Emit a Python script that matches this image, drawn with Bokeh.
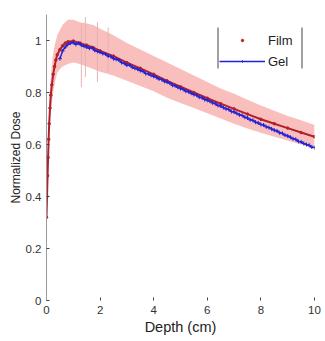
from bokeh.plotting import figure
from bokeh.embed import file_html
from bokeh.resources import INLINE
from bokeh.models import Legend, LegendItem, FixedTicker, BoxAnnotation

# Film measurement (depth in cm, normalized dose)
film_depth = [0.0, 0.02, 0.04, 0.06, 0.08, 0.1, 0.13, 0.16, 0.2, 0.25, 0.3, 0.35, 0.4,
              0.5, 0.6, 0.7, 0.8, 1.0, 1.25, 1.5, 1.75, 2.0, 2.5, 3.0, 3.5, 4.0, 4.5,
              5.0, 5.5, 6.0, 6.5, 7.0, 7.5, 8.0, 8.5, 9.0, 9.5, 10.0]
film_dose = [0.32, 0.40, 0.48, 0.55, 0.62, 0.68, 0.74, 0.79, 0.83, 0.87, 0.90, 0.925, 0.945,
             0.965, 0.98, 0.99, 0.995, 0.998, 0.99, 0.982, 0.972, 0.96, 0.94, 0.915, 0.893,
             0.87, 0.845, 0.822, 0.80, 0.778, 0.757, 0.737, 0.717, 0.697, 0.68, 0.663,
             0.646, 0.63]
film_upper = [0.35, 0.43, 0.52, 0.60, 0.67, 0.73, 0.80, 0.86, 0.91, 0.95, 0.98, 1.00, 1.02,
              1.04, 1.06, 1.07, 1.08, 1.08, 1.07, 1.065, 1.06, 1.045, 1.02, 0.99, 0.965,
              0.94, 0.915, 0.89, 0.865, 0.84, 0.815, 0.795, 0.772, 0.75, 0.73, 0.71,
              0.693, 0.675]
film_lower = [0.29, 0.37, 0.44, 0.50, 0.57, 0.63, 0.68, 0.72, 0.76, 0.80, 0.83, 0.855, 0.875,
              0.89, 0.90, 0.905, 0.91, 0.915, 0.91, 0.90, 0.89, 0.88, 0.865, 0.845, 0.825,
              0.805, 0.78, 0.76, 0.74, 0.72, 0.70, 0.68, 0.662, 0.645, 0.63, 0.615,
              0.60, 0.585]

# Gel measurement
gel_depth = [0.5, 0.6, 0.7, 0.8, 0.9, 1.0, 1.1, 1.2, 1.3, 1.4, 1.5, 1.6, 1.7, 1.8, 1.9,
             2.0, 2.1, 2.2, 2.3, 2.4, 2.5, 2.6, 2.7, 2.8, 2.9, 3.0, 3.1, 3.2, 3.3, 3.4,
             3.5, 3.6, 3.7, 3.8, 3.9, 4.0, 4.1, 4.2, 4.3, 4.4, 4.5, 4.6, 4.7, 4.8, 4.9,
             5.0, 5.1, 5.2, 5.3, 5.4, 5.5, 5.6, 5.7, 5.8, 5.9, 6.0, 6.1, 6.2, 6.3, 6.4,
             6.5, 6.6, 6.7, 6.8, 6.9, 7.0, 7.1, 7.2, 7.3, 7.4, 7.5, 7.6, 7.7, 7.8, 7.9,
             8.0, 8.1, 8.2, 8.3, 8.4, 8.5, 8.6, 8.7, 8.8, 8.9, 9.0, 9.1, 9.2, 9.3, 9.4,
             9.5, 9.6, 9.7, 9.8, 9.9, 10.0]
gel_dose = [0.93, 0.96, 0.975, 0.985, 0.99, 0.992, 0.985, 0.99, 0.982, 0.978, 0.975, 0.97,
            0.972, 0.962, 0.958, 0.955, 0.95, 0.948, 0.94, 0.938, 0.93, 0.928, 0.925, 0.915,
            0.912, 0.905, 0.906, 0.897, 0.893, 0.89, 0.884, 0.882, 0.873, 0.872, 0.866,
            0.862, 0.858, 0.852, 0.85, 0.843, 0.84, 0.836, 0.828, 0.826, 0.82, 0.815,
            0.812, 0.805, 0.803, 0.797, 0.792, 0.79, 0.782, 0.78, 0.773, 0.77, 0.766,
            0.76, 0.757, 0.75, 0.748, 0.742, 0.737, 0.735, 0.727, 0.725, 0.72, 0.714,
            0.712, 0.705, 0.702, 0.695, 0.693, 0.686, 0.683, 0.677, 0.675, 0.668, 0.665,
            0.66, 0.655, 0.652, 0.645, 0.643, 0.636, 0.633, 0.628, 0.622, 0.62, 0.612,
            0.61, 0.604, 0.60, 0.597, 0.59, 0.588]

# occasional large film error spikes
spike_depth = [1.3, 1.45, 1.9, 2.3]
spike_lo = [0.82, 0.86, 0.84, 0.88]
spike_hi = [1.06, 1.09, 1.07, 1.05]

x_ticks = [0, 2, 4, 6, 8, 10]
y_ticks = [0, 0.2, 0.4, 0.6, 0.8, 1.0]
y_tick_labels = {0: "0", 0.2: "0.2", 0.4: "0.4", 0.6: "0.6", 0.8: "0.8", 1: "1"}

FONT = "Liberation Sans"
RED = "#b3202a"
BLUE = "#2323d6"
PINK = "#f7b4b0"

p = figure(width=325, height=341, output_backend="svg", toolbar_location=None,
           x_range=(0, 10), y_range=(0, 1.1),
           min_border_left=46, min_border_right=11, min_border_top=14, min_border_bottom=41)
p.outline_line_color = None
p.grid.visible = False
p.background_fill_color = "white"

p.varea(x=film_depth, y1=film_lower, y2=film_upper, fill_color=PINK, fill_alpha=0.85)
p.segment(x0=spike_depth, y0=spike_lo, x1=spike_depth, y1=spike_hi,
          line_color="#e3b3b3", line_width=1)

film_line = p.line(film_depth, film_dose, line_color=RED, line_width=2)
film_pts = p.scatter(film_depth, film_dose, size=2.5, marker="circle",
                     fill_color=RED, line_color=RED)
gel_line = p.line(gel_depth, gel_dose, line_color=BLUE, line_width=1.5)
gel_pts = p.scatter(gel_depth, gel_dose, size=4, marker="cross",
                    line_color=BLUE, line_width=1)

for ax in (p.xaxis[0], p.yaxis[0]):
    ax.major_tick_in = 3
    ax.major_tick_out = 0
    ax.minor_tick_line_color = None
    ax.major_label_text_font = FONT
    ax.major_label_text_font_size = "11.5px"
    ax.major_label_text_color = "#333333"
    ax.axis_label_text_font = FONT
    ax.axis_label_text_font_style = "normal"
    ax.axis_label_text_color = "#222222"
    ax.major_tick_line_color = "#444444"

p.xaxis.ticker = FixedTicker(ticks=x_ticks)
p.yaxis.ticker = FixedTicker(ticks=y_ticks)
p.yaxis.major_label_overrides = y_tick_labels
p.xaxis.axis_line_color = None
p.yaxis.axis_line_color = "#9a9a9a"
p.xaxis.axis_label = "Depth (cm)"
p.yaxis.axis_label = "Normalized Dose"
p.xaxis.axis_label_text_font_size = "14.5px"
p.yaxis.axis_label_text_font_size = "12px"
p.xaxis.major_label_standoff = 5
p.yaxis.major_label_standoff = 5
p.xaxis.axis_label_standoff = 2
p.yaxis.axis_label_standoff = 0

legend = Legend(items=[LegendItem(label="Film", renderers=[film_pts]),
                       LegendItem(label="Gel", renderers=[gel_line, gel_pts])],
                location=(173, 229), orientation="vertical")
legend.glyph_width = 46
legend.glyph_height = 6
legend.label_height = 20
legend.label_standoff = 3
legend.padding = 3
legend.spacing = 1
legend.margin = 0
legend.label_text_font = FONT
legend.label_text_font_size = "13px"
legend.label_text_color = "#222222"
legend.border_line_color = None
legend.background_fill_alpha = 1.0
p.add_layout(legend, "center")

# legend side bars (left/right edges of the MATLAB-style legend box)
p.add_layout(BoxAnnotation(left=217, right=218, top=27, bottom=68,
                           left_units="canvas", right_units="canvas",
                           top_units="canvas", bottom_units="canvas",
                           fill_color="#444444", fill_alpha=1, line_color=None))
p.add_layout(BoxAnnotation(left=301, right=302, top=27, bottom=68,
                           left_units="canvas", right_units="canvas",
                           top_units="canvas", bottom_units="canvas",
                           fill_color="#444444", fill_alpha=1, line_color=None))

open("out.html", "w").write(file_html(p, INLINE))
